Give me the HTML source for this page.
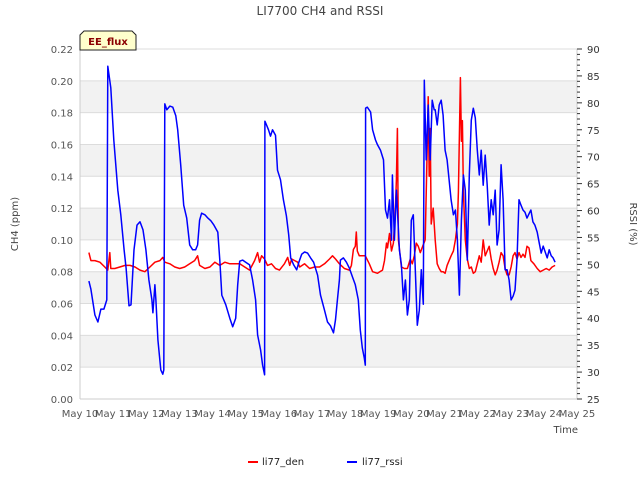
<!DOCTYPE html>
<html><head><meta charset="utf-8"><style>
body{margin:0;background:#fff;}
svg text{font-family:"DejaVu Sans","Liberation Sans",sans-serif;}
</style></head><body>
<svg id="chart" width="640" height="480" viewBox="0 0 640 480" xmlns="http://www.w3.org/2000/svg">
<text x="320" y="15" text-anchor="middle" font-size="12" fill="#444">LI7700 CH4 and RSSI</text>
<g id="bands"></g><g id="grid"></g><g id="axes"></g><g id="series"></g>
<g>
<path d="M80,50 L80,35 L84,31 L132,31 L136,35 L136,50 Z" fill="#ffffcc" stroke="#222" stroke-width="1"/>
<text x="108" y="45" text-anchor="middle" font-size="10" font-weight="bold" fill="#8b0000">EE_flux</text>
</g>
<text transform="translate(18,224) rotate(-90)" text-anchor="middle" font-size="10" fill="#444">CH4 (ppm)</text>
<text transform="translate(630,224) rotate(90)" text-anchor="middle" font-size="10" fill="#444">RSSI (%)</text>
<text x="578" y="433" text-anchor="end" font-size="10" fill="#444">Time</text>
<g>
<g><line x1="248" y1="462" x2="258" y2="462" stroke="#f00" stroke-width="2"/><text x="262" y="465" font-size="10" fill="#222">li77_den</text></g>
<g><line x1="347" y1="462" x2="357" y2="462" stroke="#00f" stroke-width="2"/><text x="362" y="465" font-size="10" fill="#222">li77_rssi</text></g>
</g>
</svg>
<script>
const xTickLabels=["May 10","May 11","May 12","May 13","May 14","May 15","May 16","May 17","May 18","May 19","May 20","May 21","May 22","May 23","May 24","May 25"];
const ch4Ticks=[0,0.02,0.04,0.06,0.08,0.10,0.12,0.14,0.16,0.18,0.20,0.22];
const rssiTicks=[25,30,35,40,45,50,55,60,65,70,75,80,85,90];
const rssiTimes=[0.27,0.33,0.45,0.54,0.63,0.72,0.81,0.84,0.93,1.02,
1.14,1.23,1.33,1.39,1.48,1.54,1.63,1.72,1.81,1.90,
1.99,2.08,2.17,2.20,2.26,2.29,2.35,2.44,2.50,2.53,
2.56,2.62,2.71,2.80,2.89,2.95,3.04,3.13,3.22,3.31,
3.40,3.49,3.55,3.61,3.67,3.77,3.86,3.95,4.04,4.16,
4.22,4.28,4.40,4.52,4.61,4.70,4.76,4.82,4.91,5.00,
5.12,5.21,5.30,5.36,5.45,5.51,5.57,5.58,5.63,5.69,
5.75,5.81,5.90,5.96,6.05,6.14,6.23,6.30,6.36,6.45,
6.54,6.60,6.69,6.78,6.87,6.96,7.05,7.17,7.26,7.38,
7.47,7.56,7.65,7.71,7.77,7.83,7.86,7.95,8.04,8.13,
8.22,8.31,8.40,8.46,8.52,8.58,8.61,8.62,8.67,8.77,
8.83,8.92,8.98,9.07,9.16,9.22,9.28,9.34,9.40,9.43,
9.49,9.55,9.64,9.70,9.76,9.82,9.88,9.94,10.00,10.06,
10.12,10.18,10.24,10.30,10.36,10.39,10.45,10.51,10.57,10.63,
10.69,10.72,10.78,10.84,10.90,10.96,11.02,11.08,11.14,11.20,
11.27,11.33,11.39,11.45,11.51,11.57,11.63,11.69,11.75,11.81,
11.87,11.93,11.99,12.05,12.11,12.17,12.23,12.29,12.35,12.41,
12.47,12.53,12.59,12.65,12.71,12.77,12.83,12.89,12.95,13.01,
13.07,13.13,13.19,13.25,13.31,13.37,13.43,13.49,13.55,13.61,
13.67,13.73,13.80,13.86,13.92,13.98,14.04,14.10,14.16,14.22,
14.28,14.34];
const rssiValues=[46.9,45.4,40.6,39.3,41.7,41.7,43.4,86.8,82.8,73.1,
63.8,59.2,52.7,49.3,42.3,42.5,52.7,57.3,57.9,56.4,
52.7,47.1,43.4,41.0,46.2,43.4,36.0,30.4,29.6,30.4,
79.8,78.7,79.4,79.2,77.6,75.0,68.5,61.0,58.6,53.6,
52.7,52.7,53.6,58.2,59.5,59.2,58.6,58.1,57.3,56.0,
50.8,44.3,42.5,40.0,38.4,40.0,46.2,50.6,50.8,50.4,
49.9,47.1,43.4,36.9,34.1,31.3,29.5,76.6,75.9,75.0,
73.8,75.0,74.0,67.5,65.7,62.0,59.0,55.5,51.2,49.9,
49.0,50.3,51.9,52.3,52.1,51.2,50.4,48.0,44.3,41.5,
39.3,38.6,37.3,39.7,43.4,47.1,50.8,51.2,50.4,49.3,
47.7,46.2,43.4,37.8,34.5,32.6,31.3,79.0,79.2,78.3,
75.0,73.1,72.2,71.2,69.4,60.1,58.6,62.0,54.5,66.6,
54.5,63.8,52.7,49.9,43.4,47.1,40.6,43.4,58.2,59.2,
49.0,38.7,41.5,49.0,42.6,84.2,69.4,79.6,69.4,80.5,
78.7,78.7,75.9,79.6,80.5,77.7,71.2,69.4,65.7,62.0,
59.2,60.1,54.5,44.3,58.2,66.6,63.8,50.8,66.6,76.8,
79.0,77.2,71.2,66.6,71.2,64.7,70.3,64.7,57.3,62.0,
59.2,63.8,53.6,56.4,68.5,62.0,49.0,49.0,47.1,43.4,
44.1,45.2,50.8,62.0,61.0,60.1,59.7,58.6,59.4,60.1,
57.9,57.3,56.0,54.0,52.1,53.4,52.3,51.2,52.7,51.6,
51.2,50.4];
const denTimes=[0.27,0.33,0.45,0.60,0.75,0.84,0.90,0.93,1.05,1.20,
1.36,1.51,1.66,1.81,1.96,2.11,2.26,2.41,2.50,2.56,
2.71,2.86,3.01,3.16,3.31,3.46,3.55,3.61,3.77,3.92,
4.07,4.22,4.37,4.52,4.67,4.82,4.97,5.12,5.27,5.36,
5.42,5.48,5.57,5.66,5.78,5.90,6.02,6.17,6.27,6.33,
6.39,6.48,6.57,6.63,6.78,6.93,7.08,7.23,7.38,7.53,
7.62,7.71,7.83,7.98,8.13,8.19,8.25,8.31,8.34,8.37,
8.43,8.61,8.73,8.83,8.98,9.13,9.19,9.25,9.28,9.34,
9.40,9.46,9.52,9.55,9.58,9.61,9.70,9.79,9.88,9.97,
10.03,10.09,10.15,10.21,10.27,10.36,10.42,10.48,10.51,10.54,
10.57,10.60,10.66,10.72,10.78,10.84,10.90,10.96,11.02,11.08,
11.14,11.20,11.27,11.33,11.39,11.42,11.48,11.51,11.54,11.57,
11.63,11.69,11.75,11.81,11.87,11.93,11.99,12.05,12.11,12.17,
12.23,12.29,12.35,12.41,12.47,12.53,12.59,12.65,12.71,12.77,
12.83,12.89,12.95,13.01,13.07,13.13,13.19,13.25,13.31,13.37,
13.43,13.49,13.55,13.61,13.70,13.80,13.89,13.98,14.07,14.16,
14.25,14.34];
const denValues=[0.092,0.087,0.087,0.086,0.083,0.081,0.092,0.082,0.082,0.083,
0.084,0.084,0.083,0.081,0.080,0.083,0.086,0.087,0.089,0.086,
0.085,0.083,0.082,0.083,0.085,0.087,0.090,0.084,0.082,0.083,
0.086,0.084,0.086,0.085,0.085,0.085,0.083,0.081,0.087,0.092,
0.086,0.090,0.088,0.084,0.085,0.082,0.081,0.085,0.089,0.084,
0.088,0.087,0.086,0.083,0.085,0.082,0.083,0.083,0.085,0.088,
0.090,0.088,0.085,0.082,0.081,0.084,0.094,0.096,0.105,0.093,
0.090,0.090,0.085,0.080,0.079,0.081,0.087,0.098,0.095,0.104,
0.093,0.098,0.120,0.138,0.170,0.100,0.083,0.082,0.082,0.088,
0.085,0.090,0.098,0.096,0.092,0.097,0.100,0.158,0.190,0.140,
0.170,0.110,0.120,0.100,0.085,0.082,0.080,0.080,0.079,0.084,
0.087,0.090,0.093,0.100,0.110,0.130,0.202,0.162,0.175,0.130,
0.100,0.088,0.082,0.083,0.079,0.080,0.085,0.090,0.086,0.100,
0.090,0.093,0.096,0.088,0.082,0.078,0.081,0.086,0.092,0.090,
0.082,0.078,0.078,0.083,0.090,0.092,0.088,0.092,0.089,0.091,
0.089,0.096,0.095,0.087,0.085,0.082,0.080,0.081,0.082,0.081,
0.083,0.084];

const L=80,R=577,T=49,B=399;
const xS=d=>L+(R-L)*d/15;
const yL=v=>B-(B-T)*v/0.22;
const yR=v=>B-(B-T)*(v-25)/65;
const NS="http://www.w3.org/2000/svg";
function mk(parent,tag,attrs,text){const e=document.createElementNS(NS,tag);for(const k in attrs)e.setAttribute(k,attrs[k]);if(text!==undefined)e.textContent=text;document.getElementById(parent).appendChild(e);return e;}

for(let i=0;i<ch4Ticks.length-1;i++){
  if(i%2===1){
    const r=mk('bands','rect',{x:L,y:yL(ch4Ticks[i+1]),width:R-L,height:yL(ch4Ticks[i])-yL(ch4Ticks[i+1]),fill:'#f2f2f2'});
    
    
  }
}
ch4Ticks.forEach(v=>{
  const y=yL(v);
  const g=mk('grid','line',{x1:L,x2:R,y1:y,y2:y,stroke:'#dcdcdc','stroke-width':1});
  
  
  const t=mk('axes','text',{x:L-7,y:y+4,'text-anchor':'end','font-size':10,fill:'#555'},v.toFixed(2));
  
  
});
mk('axes','line',{x1:L,x2:L,y1:T,y2:B,stroke:'#ccc'});
mk('axes','line',{x1:L,x2:R,y1:B,y2:B,stroke:'#ccc'});
mk('axes','line',{x1:R,x2:R,y1:T,y2:B,stroke:'#ccc'});
for(let v=25;v<=90;v++){
  const y=yR(v);const major=v%5===0;
  mk('axes','line',{x1:R,x2:R+(major?5:3),y1:y,y2:y,stroke:'#333','stroke-width':1});
}
rssiTicks.forEach(v=>{
  const t=mk('axes','text',{x:R+10,y:yR(v)+4,'font-size':10,fill:'#333'},String(v));
  
  
});
xTickLabels.forEach((s,i)=>{
  const t=mk('axes','text',{x:xS(i),y:417,'text-anchor':'middle','font-size':10,fill:'#555'},s);
  
  
});
const den=mk('series','polyline',{points:denTimes.map((t,i)=>xS(t).toFixed(1)+','+yL(denValues[i]).toFixed(1)).join(' '),fill:'none',stroke:'#ff0000','stroke-width':1.5,'stroke-linejoin':'round'});


const rs=mk('series','polyline',{points:rssiTimes.map((t,i)=>xS(t).toFixed(1)+','+yR(rssiValues[i]).toFixed(1)).join(' '),fill:'none',stroke:'#0000ff','stroke-width':1.5,'stroke-linejoin':'round'});


</script>
</body></html>
